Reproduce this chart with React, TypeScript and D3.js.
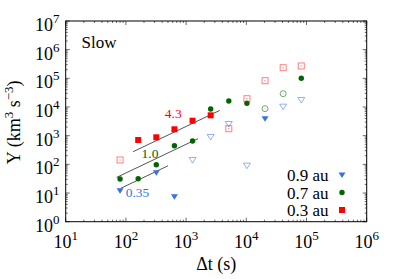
import * as d3 from 'd3';

// time lags (s) shared by all three series
const dtValues = [80, 160, 320, 640, 1280, 2560, 5120, 10240, 20480, 40960, 81920];

// Y (km^3 s^-3) per distance, null = no point
const y09 = [12.1, null, 51, 7.4, 142, 900, 2560, 90, 3920, 10300, 17600];
const y07 = [30.8, 31.6, 97, 448, 653, 8530, 16200, 13500, 8740, 29100, 100400];
const y03 = [142, 708, 879, 1670, 3330, 5140, 1750, 19500, 82800, 235000, 270000];

// filled = used in the fit, open = excluded
const filled09 = [true, false, true, true, false, false, false, false, true, false, false];
const filled07 = [true, true, true, true, true, true, true, true, false, false, true];
const filled03 = [false, true, true, true, true, true, false, false, false, false, false];

// linear fits Y = c * dt, with label, drawn over a limited range
const fitLabels = ['0.35', '1.0', '4.3'];
const fitCoef = [0.178, 0.5, 2.1];
const fitFrom = [82, 70, 132];
const fitTo = [500, 1580, 3620];

const legendLabels = ['0.9 au', '0.7 au', '0.3 au'];
const colors = ['#3d6fe0', '#006400', '#ff0000'];

const xTicks = [1, 2, 3, 4, 5, 6];
const yTicks = [0, 1, 2, 3, 4, 5, 6, 7];

const W = 399;
const H = 279;
const left = 65.7;
const right = 366.7;
const top = 21;
const bottom = 221.7;
const serif = { fontFamily: "'Liberation Serif', 'Times New Roman', serif" };

function Marker({ kind, x, y, color, full }: { kind: number; x: number; y: number; color: string; full: boolean }) {
  if (kind === 0) {
    const p = `M${x - 3.5},${y - 2.5}L${x + 3.5},${y - 2.5}L${x},${y + 3}Z`;
    return full
      ? <path d={p} fill={color} />
      : <path d={p} fill="none" stroke={color} strokeOpacity={0.55} strokeWidth={1} />;
  }
  if (kind === 1) {
    return full
      ? <circle cx={x} cy={y} r={2.7} fill={color} />
      : <g><circle cx={x} cy={y} r={3} fill="none" stroke={color} strokeOpacity={0.55} /><circle cx={x} cy={y} r={0.5} fill={color} opacity={0.5} /></g>;
  }
  return full
    ? <rect x={x - 3} y={y - 3} width={6} height={6} fill={color} />
    : <g><rect x={x - 3} y={y - 3} width={6} height={6} fill="none" stroke={color} strokeOpacity={0.5} /><rect x={x - 0.6} y={y - 0.6} width={1.2} height={1.2} fill={color} opacity={0.5} /></g>;
}

export default function App() {
  const x = d3.scaleLog().domain([10, 1e6]).range([left, right]);
  const y = d3.scaleLog().domain([1, 1e7]).range([bottom, top]);

  const series = [
    { vals: y09, full: filled09 },
    { vals: y07, full: filled07 },
    { vals: y03, full: filled03 },
  ];

  const minorX: number[] = [];
  xTicks.slice(0, -1).forEach(e => d3.range(2, 10).forEach(m => minorX.push(m * Math.pow(10, e))));
  const minorY: number[] = [];
  yTicks.slice(0, -1).forEach(e => d3.range(2, 10).forEach(m => minorY.push(m * Math.pow(10, e))));

  return (
    <div style={{ position: 'absolute', left: 0, top: 0 }}>
      <svg width={W} height={H} style={{ display: 'block', background: '#fff', ...serif }}>
        {/* ticks, inward on all sides */}
        <g stroke="#444" strokeWidth={0.8}>
          {xTicks.map(e => {
            const px = x(Math.pow(10, e));
            return <g key={'xt' + e}><line x1={px} x2={px} y1={bottom} y2={bottom - 4} /><line x1={px} x2={px} y1={top} y2={top + 4} /></g>;
          })}
          {minorX.map(v => (
            <g key={'xm' + v}><line x1={x(v)} x2={x(v)} y1={bottom} y2={bottom - 2} /><line x1={x(v)} x2={x(v)} y1={top} y2={top + 2} /></g>
          ))}
          {yTicks.map(e => {
            const py = y(Math.pow(10, e));
            return <g key={'yt' + e}><line x1={left} x2={left + 4} y1={py} y2={py} /><line x1={right} x2={right - 4} y1={py} y2={py} /></g>;
          })}
          {minorY.map(v => (
            <g key={'ym' + v}><line x1={left} x2={left + 2} y1={y(v)} y2={y(v)} /><line x1={right} x2={right - 2} y1={y(v)} y2={y(v)} /></g>
          ))}
        </g>
        <rect x={left} y={top} width={right - left} height={bottom - top} fill="none" stroke="#000" strokeWidth={1} />

        {/* tick labels */}
        {xTicks.map(e => (
          <text key={'xl' + e} x={x(Math.pow(10, e))} y={bottom + 26.5} textAnchor="middle" fontSize={18} style={serif}>
            10<tspan fontSize={13} dy={-8}>{e}</tspan>
          </text>
        ))}
        {yTicks.map(e => (
          <text key={'yl' + e} x={59.5} y={y(Math.pow(10, e)) + 10} textAnchor="end" fontSize={18} style={serif}>
            10<tspan fontSize={13} dy={-8}>{e}</tspan>
          </text>
        ))}

        {/* axis titles */}
        <text x={(left + right) / 2} y={270} textAnchor="middle" fontSize={18} style={serif}>Δt (s)</text>
        <text transform={`translate(20,${(top + bottom) / 2 + 1}) rotate(-90)`} textAnchor="middle" fontSize={18} style={serif}>
          Y (km<tspan fontSize={13} dy={-7}>3</tspan><tspan dy={7}> s</tspan><tspan fontSize={13} dy={-7}>−3</tspan><tspan dy={7}>)</tspan>
        </text>
        <text x={81.5} y={48} fontSize={17} style={serif}>Slow</text>

        {/* fit lines */}
        {fitCoef.map((c, i) => (
          <line key={'fit' + i} x1={x(fitFrom[i])} y1={y(c * fitFrom[i])} x2={x(fitTo[i])} y2={y(c * fitTo[i])}
            stroke="#555" strokeWidth={1} />
        ))}
        <text x={137.5} y={197} textAnchor="middle" fontSize={13.5} fill={colors[0]} style={serif}>{fitLabels[0]}</text>
        <text x={150} y={157.5} textAnchor="middle" fontSize={13.5} fill={colors[1]} style={serif}>{fitLabels[1]}</text>
        <text x={173.3} y={117.5} textAnchor="middle" fontSize={13.5} fill={colors[2]} style={serif}>{fitLabels[2]}</text>

        {/* points */}
        {series.map((s, k) => (
          <g key={'s' + k}>
            {s.vals.map((v, i) => v == null ? null : (
              <Marker key={i} kind={k} x={x(dtValues[i])} y={y(v)} color={colors[k]} full={s.full[i]} />
            ))}
          </g>
        ))}

        {/* legend */}
        {legendLabels.map((l, k) => {
          const cy = 175 + k * 17.5;
          return (
            <g key={'lg' + k}>
              <text x={328.5} y={cy + 6} textAnchor="end" fontSize={17} style={serif}>{l}</text>
              <Marker kind={k} x={342} y={cy} color={colors[k]} full={true} />
            </g>
          );
        })}
      </svg>
    </div>
  );
}
